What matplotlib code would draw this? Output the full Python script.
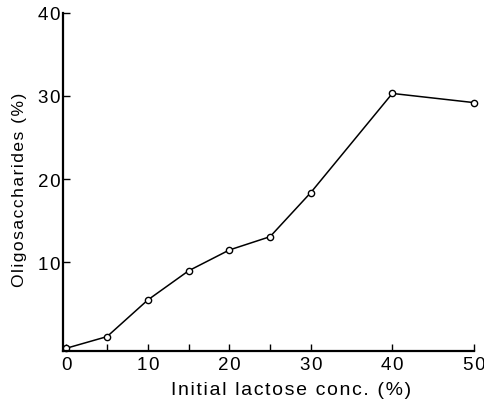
import matplotlib
matplotlib.use("Agg")
import matplotlib.pyplot as plt

# initial lactose (%) vs oligosaccharides formed (%)
lactose = [0, 5, 10, 15, 20, 25, 30, 40, 50]
oligo = [-0.3, 1.1, 5.5, 9.0, 11.5, 13.1, 18.4, 30.3, 29.2]

y_ticks = [10, 20, 30, 40]
x_labels = [0, 10, 20, 30, 40, 50]

plt.rcParams['font.family'] = ['Liberation Sans', 'DejaVu Sans']


def spaced(s, gap='\u200a'):
    # the scanned figure uses loose letter spacing
    return gap.join(s)


fig = plt.figure(figsize=(4.85, 4.02), dpi=100)
ax = fig.add_axes([0.13, 0.125, 0.847, 0.841])

ax.plot(lactose, oligo, '-o', color='black', lw=1.1, ms=4.5,
        mfc='white', mec='black', mew=1.0, clip_on=False)

ax.set_xlim(-0.4, 50)
ax.set_ylim(-0.6, 40)

# ticks sit at the measured concentrations, labels only every 10
ax.set_xticks(lactose)
ax.set_xticklabels([spaced(str(v)) if v in x_labels else '' for v in lactose])
ax.set_yticks(y_ticks)
ax.set_yticklabels([spaced(str(v)) for v in y_ticks])

ax.tick_params(direction='in', length=5, width=1.0, labelsize=13.5, pad=4)
ax.tick_params(axis='y', pad=2)

for side in ['top', 'right']:
    ax.spines[side].set_visible(False)
for side in ['left', 'bottom']:
    ax.spines[side].set_linewidth(1.6)

ax.set_xlabel(spaced('Initial lactose conc. (%)'), fontsize=14)
ax.set_ylabel(spaced('Oligosaccharides (%)'), fontsize=12.5)
ax.xaxis.set_label_coords(0.555, -0.088)
ax.yaxis.set_label_coords(-0.087, 0.48)

plt.savefig('out.png', dpi=100)
